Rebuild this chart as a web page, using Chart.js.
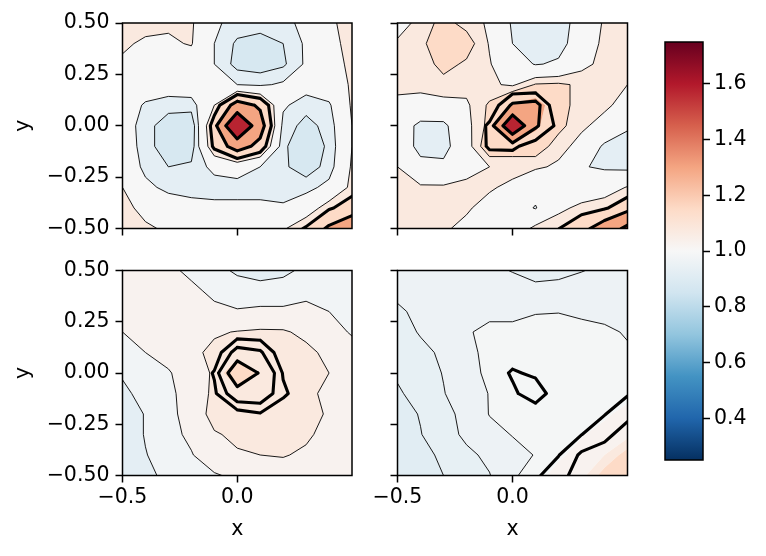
<!DOCTYPE html>
<html>
<head>
<meta charset="utf-8">
<script src="https://cdn.jsdelivr.net/npm/chart.js@4.4.1/dist/chart.umd.min.js"></script>
<style>
  html, body { margin: 0; padding: 0; background: #fff; }
  #wrap { position: relative; width: 766px; height: 556px; }
  #wrap canvas { position: absolute; left: 0; top: 0; }
</style>
</head>
<body>
<div id="wrap">
  <canvas id="tl" width="766" height="556"></canvas>
  <canvas id="tr" width="766" height="556"></canvas>
  <canvas id="bl" width="766" height="556"></canvas>
  <canvas id="br" width="766" height="556"></canvas>
  <canvas id="cb" width="766" height="556"></canvas>
</div>
<script>
// grid positions (columns left->right, rows top->bottom)
const xs = [-0.5, -0.4, -0.3, -0.2, -0.1, 0.0, 0.1, 0.2, 0.3, 0.4, 0.5];
const ys = [0.5, 0.4, 0.3, 0.2, 0.1, 0.0, -0.1, -0.2, -0.3, -0.4, -0.5];

const xTicks = [-0.5, 0.0];
const xTickLabels = ['\u22120.5', '0.0'];
const yTicks = [-0.5, -0.25, 0.0, 0.25, 0.5];
const yTickLabels = ['\u22120.50', '\u22120.25', '0.00', '0.25', '0.50'];
const cbTicks = [0.4, 0.6, 0.8, 1.0, 1.2, 1.4, 1.6];
const cbTickLabels = ['0.4', '0.6', '0.8', '1.0', '1.2', '1.4', '1.6'];

const vMin = 0.25, vMax = 1.75;

// contour levels of each panel
const topLevels = [0.25, 0.85, 0.9, 0.95, 1.05, 1.1, 1.2, 1.4, 1.75];
const topThin = [0.85, 0.9, 0.95, 1.05, 1.1];
const blLevels = [0.25, 0.9, 0.95, 1.0, 1.05, 1.1, 1.2, 1.4, 1.75];
const blThin = [0.9, 0.95, 1.0, 1.05];
const brLevels = [0.25, 0.9, 0.925, 0.95, 0.975, 1.0, 1.05, 1.1, 1.2, 1.4, 1.75];
const brThin = [0.925, 0.95, 0.975];
const thickLevels = [1.1, 1.2, 1.4];

// top left: filled field (its thick lines use the same field)
const tlField = [
  [1.07, 1.07, 1.06, 1.06, 0.96, 0.93, 0.92, 0.93, 0.97, 1.04, 1.07],
  [1.06, 1.04, 1.04, 1.055, 0.95, 0.89, 0.88, 0.90, 0.96, 1.03, 1.07],
  [1.04, 1.02, 1.01, 1.01, 0.95, 0.88, 0.87, 0.89, 0.96, 1.01, 1.07],
  [1.02, 1.0, 0.99, 1.0, 0.97, 0.95, 0.94, 0.96, 0.98, 1.0, 1.06],
  [1.0, 0.94, 0.92, 0.92, 1.05, 1.26, 1.18, 0.96, 0.92, 0.94, 1.06],
  [0.99, 0.92, 0.87, 0.86, 1.15, 1.65, 1.26, 0.93, 0.88, 0.92, 1.05],
  [1.0, 0.92, 0.87, 0.87, 1.12, 1.26, 1.16, 0.91, 0.86, 0.91, 1.05],
  [1.02, 0.93, 0.9, 0.91, 0.97, 0.99, 0.95, 0.91, 0.87, 0.92, 1.06],
  [1.05, 0.97, 0.93, 0.92, 0.92, 0.92, 0.92, 0.92, 0.93, 0.97, 1.07],
  [1.07, 1.03, 1.0, 0.98, 0.97, 0.97, 0.97, 0.96, 1.0, 1.09, 1.14],
  [1.08, 1.06, 1.04, 1.03, 1.02, 1.02, 1.02, 1.04, 1.11, 1.22, 1.3]
];

const trField = [
  [1.02, 1.07, 1.12, 1.08, 1.04, 0.94, 0.92, 0.92, 0.98, 1.06, 1.08],
  [1.06, 1.08, 1.16, 1.13, 1.045, 0.95, 0.92, 0.925, 0.99, 1.07, 1.08],
  [1.07, 1.07, 1.12, 1.09, 1.055, 0.99, 0.945, 0.96, 1.03, 1.07, 1.07],
  [1.07, 1.07, 1.08, 1.07, 1.06, 1.04, 1.105, 1.11, 1.09, 1.07, 1.05],
  [1.03, 1.02, 1.03, 1.04, 1.11, 1.22, 1.25, 1.13, 1.07, 1.06, 1.03],
  [1.0, 0.93, 0.93, 1.03, 1.12, 1.6, 1.22, 1.12, 1.06, 1.03, 0.96],
  [1.02, 0.92, 0.92, 1.02, 1.15, 1.12, 1.14, 1.07, 1.03, 0.935, 0.92],
  [1.05, 0.98, 0.97, 1.02, 1.05, 1.08, 1.06, 1.04, 0.955, 0.94, 0.93],
  [1.07, 1.06, 1.06, 1.07, 1.06, 1.03, 0.98, 0.97, 0.99, 1.01, 1.055],
  [1.06, 1.07, 1.07, 1.06, 1.02, 0.99, 0.945, 1.03, 1.07, 1.09, 1.15],
  [1.06, 1.07, 1.06, 1.03, 1.0, 0.99, 1.07, 1.098, 1.16, 1.27, 1.45]
];
const trLines = [
  [1.02, 1.07, 1.06, 1.08, 1.04, 0.94, 0.92, 0.92, 0.98, 1.06, 1.07],
  [1.06, 1.08, 1.07, 1.06, 1.045, 0.95, 0.92, 0.925, 0.99, 1.07, 1.08],
  [1.07, 1.07, 1.07, 1.09, 1.055, 0.99, 0.945, 0.96, 1.03, 1.07, 1.07],
  [1.07, 1.07, 1.08, 1.07, 1.0, 1.0, 1.0, 1.0, 1.06, 1.07, 1.05],
  [1.03, 1.02, 1.03, 1.0, 1.02, 1.22, 1.25, 1.0, 1.0, 1.06, 1.03],
  [1.0, 0.93, 0.93, 1.0, 1.12, 1.6, 1.22, 1.07, 1.0, 1.03, 0.96],
  [1.02, 0.92, 0.92, 0.98, 1.12, 1.12, 1.05, 1.0, 1.03, 0.935, 0.92],
  [1.05, 0.98, 0.97, 1.02, 1.0, 1.02, 1.0, 1.04, 0.955, 0.94, 0.93],
  [1.07, 1.06, 1.06, 1.07, 1.06, 1.03, 0.98, 0.97, 0.99, 1.01, 1.055],
  [1.06, 1.07, 1.07, 1.06, 1.02, 0.99, 0.945, 1.03, 1.07, 1.09, 1.15],
  [1.06, 1.07, 1.06, 1.03, 1.0, 0.99, 1.07, 1.098, 1.16, 1.27, 1.45]
];

const blField = [
  [1.02, 1.02, 1.01, 0.99, 0.97, 0.94, 0.93, 0.94, 0.96, 0.97, 0.98],
  [1.02, 1.02, 1.02, 1.01, 0.99, 0.98, 0.97, 0.97, 0.99, 0.98, 0.98],
  [1.01, 1.02, 1.02, 1.02, 1.01, 1.003, 1.01, 1.01, 1.01, 1.0, 0.98],
  [1.0, 1.01, 1.02, 1.03, 1.045, 1.052, 1.056, 1.055, 1.04, 1.02, 0.995],
  [0.98, 1.0, 1.02, 1.04, 1.06, 1.065, 1.07, 1.07, 1.06, 1.04, 1.02],
  [0.955, 0.98, 0.995, 1.03, 1.055, 1.17, 1.095, 1.08, 1.07, 1.05, 1.03],
  [0.94, 0.965, 0.99, 1.02, 1.06, 1.07, 1.08, 1.07, 1.06, 1.04, 1.03],
  [0.93, 0.952, 0.99, 1.015, 1.07, 1.07, 1.07, 1.07, 1.065, 1.045, 1.04],
  [0.92, 0.953, 0.985, 1.01, 1.045, 1.06, 1.065, 1.065, 1.055, 1.04, 1.03],
  [0.92, 0.948, 0.97, 0.997, 1.03, 1.045, 1.05, 1.052, 1.045, 1.04, 1.03],
  [0.91, 0.94, 0.96, 0.98, 0.995, 1.01, 1.03, 1.035, 1.035, 1.03, 1.03]
];
const blLines = [
  [1.02, 1.02, 1.01, 0.99, 0.97, 0.94, 0.93, 0.94, 0.96, 0.97, 0.98],
  [1.02, 1.02, 1.02, 1.01, 0.99, 0.98, 0.97, 0.97, 0.99, 0.98, 0.98],
  [1.01, 1.02, 1.02, 1.02, 1.01, 1.003, 1.01, 1.01, 1.01, 1.0, 0.98],
  [1.0, 1.01, 1.02, 1.03, 1.03, 1.02, 1.02, 1.03, 1.04, 1.02, 0.995],
  [0.98, 1.0, 1.02, 1.02, 1.03, 1.26, 1.22, 1.02, 1.0, 1.04, 1.02],
  [0.955, 0.98, 0.995, 1.0, 1.11, 1.6, 1.38, 1.09, 1.03, 1.05, 1.03],
  [0.94, 0.965, 0.99, 1.0, 1.08, 1.3, 1.3, 1.12, 1.03, 1.04, 1.03],
  [0.93, 0.952, 0.99, 1.0, 1.02, 1.05, 1.09, 1.03, 1.02, 1.045, 1.04],
  [0.92, 0.953, 0.985, 1.01, 1.03, 1.03, 1.04, 1.03, 1.055, 1.04, 1.03],
  [0.92, 0.948, 0.97, 0.997, 1.03, 1.045, 1.05, 1.052, 1.045, 1.04, 1.03],
  [0.91, 0.94, 0.96, 0.98, 0.995, 1.01, 1.03, 1.035, 1.035, 1.03, 1.03]
];

const brField = [
  [0.955, 0.958, 0.96, 0.96, 0.955, 0.949, 0.94, 0.942, 0.949, 0.955, 0.96],
  [0.953, 0.955, 0.958, 0.96, 0.962, 0.96, 0.958, 0.96, 0.962, 0.965, 0.968],
  [0.948, 0.953, 0.958, 0.967, 0.97, 0.97, 0.974, 0.9745, 0.972, 0.97, 0.97],
  [0.945, 0.951, 0.955, 0.973, 0.98, 0.98, 0.981, 0.981, 0.98, 0.978, 0.9735],
  [0.94, 0.947, 0.952, 0.972, 0.978, 0.982, 0.982, 0.982, 0.981, 0.979, 0.977],
  [0.9275, 0.94, 0.951, 0.97, 0.978, 0.98, 0.982, 0.982, 0.981, 0.979, 0.977],
  [0.9225, 0.932, 0.949, 0.962, 0.976, 0.98, 0.981, 0.981, 0.98, 0.979, 0.99],
  [0.915, 0.9265, 0.945, 0.955, 0.976, 0.979, 0.98, 0.98, 0.979, 0.995, 1.01],
  [0.91, 0.924, 0.94, 0.955, 0.967, 0.976, 0.977, 0.979, 0.998, 1.01, 1.03],
  [0.908, 0.917, 0.93, 0.945, 0.955, 0.967, 0.976, 0.995, 1.01, 1.05, 1.13],
  [0.905, 0.91, 0.925, 0.94, 0.949, 0.97, 0.99, 1.01, 1.03, 1.13, 1.19]
];
const brLines = [
  [0.96, 0.965, 0.97, 0.97, 0.965, 0.95, 0.94, 0.945, 0.95, 0.96, 0.97],
  [0.955, 0.96, 0.965, 0.97, 0.975, 0.97, 0.965, 0.97, 0.975, 0.98, 0.985],
  [0.945, 0.955, 0.965, 0.985, 0.99, 0.99, 0.998, 0.999, 0.995, 0.99, 0.99],
  [0.94, 0.952, 0.96, 0.996, 1.01, 1.01, 1.012, 1.012, 1.01, 1.005, 0.997],
  [0.93, 0.945, 0.955, 0.994, 1.006, 1.015, 1.015, 1.015, 1.012, 1.008, 1.003],
  [0.905, 0.93, 0.952, 0.99, 1.006, 1.12, 1.07, 1.015, 1.012, 1.008, 1.003],
  [0.895, 0.915, 0.948, 0.975, 1.003, 1.07, 1.19, 1.0, 1.01, 1.02, 1.09],
  [0.88, 0.903, 0.94, 0.96, 1.002, 1.008, 1.0, 1.06, 1.04, 1.095, 1.17],
  [0.87, 0.898, 0.93, 0.96, 0.985, 1.0, 1.005, 1.05, 1.098, 1.17, 1.25],
  [0.865, 0.885, 0.91, 0.94, 0.96, 0.985, 1.02, 1.095, 1.22, 1.25, 1.3],
  [0.86, 0.87, 0.9, 0.93, 0.948, 0.995, 1.08, 1.17, 1.24, 1.3, 1.35]
];

// RdBu reversed
const rdbuR = ['#053061', '#2166ac', '#4393c3', '#92c5de', '#d1e5f0', '#f7f7f7',
               '#fddbc7', '#f4a582', '#d6604d', '#b2182b', '#67001f'];

Chart.defaults.font.family = "'DejaVu Sans', sans-serif";
Chart.defaults.color = '#000';

const FONT = 20.5;

function hexRgb(h) {
  return [parseInt(h.slice(1, 3), 16), parseInt(h.slice(3, 5), 16), parseInt(h.slice(5, 7), 16)];
}

function cmap(t) {
  t = Math.min(1, Math.max(0, t));
  const s = t * (rdbuR.length - 1);
  const i = Math.min(rdbuR.length - 2, Math.floor(s));
  const f = s - i;
  const a = hexRgb(rdbuR[i]), b = hexRgb(rdbuR[i + 1]);
  const c = a.map((v, k) => Math.round(v + f * (b[k] - v)));
  return `rgb(${c[0]},${c[1]},${c[2]})`;
}

function bandColor(levels, k) {
  const mid = (levels[k] + levels[k + 1]) / 2;
  return cmap((mid - vMin) / (vMax - vMin));
}

function lerpPt(p, q, L) {
  const t = (L - p.v) / (q.v - p.v);
  return { x: p.x + t * (q.x - p.x), y: p.y + t * (q.y - p.y), v: L };
}

// keep the part of a polygon above (or below) level L
function clipPoly(poly, L, keepAbove) {
  const out = [];
  for (let i = 0; i < poly.length; i++) {
    const p = poly[i], q = poly[(i + 1) % poly.length];
    const pin = keepAbove ? p.v >= L : p.v < L;
    const qin = keepAbove ? q.v >= L : q.v < L;
    if (pin && qin) out.push(q);
    else if (pin && !qin) out.push(lerpPt(p, q, L));
    else if (!pin && qin) { out.push(lerpPt(p, q, L)); out.push(q); }
  }
  return out;
}

function cellPoly(grid, r, c, px, py) {
  return [
    { x: px[c], y: py[r], v: grid[r][c] },
    { x: px[c + 1], y: py[r], v: grid[r][c + 1] },
    { x: px[c + 1], y: py[r + 1], v: grid[r + 1][c + 1] },
    { x: px[c], y: py[r + 1], v: grid[r + 1][c] }
  ];
}

function isoSegments(grid, L, px, py) {
  const segs = [];
  for (let r = 0; r < ys.length - 1; r++) {
    for (let c = 0; c < xs.length - 1; c++) {
      const p = cellPoly(grid, r, c, px, py);
      const pts = [];
      for (let e = 0; e < 4; e++) {
        const a = p[e], b = p[(e + 1) % 4];
        if ((a.v >= L) !== (b.v >= L)) pts.push(lerpPt(a, b, L));
      }
      if (pts.length === 2) segs.push([pts[0], pts[1]]);
      else if (pts.length === 4) {
        const center = (p[0].v + p[1].v + p[2].v + p[3].v) / 4 >= L;
        if ((p[1].v >= L) !== center) { segs.push([pts[0], pts[1]]); segs.push([pts[2], pts[3]]); }
        else { segs.push([pts[3], pts[0]]); segs.push([pts[1], pts[2]]); }
      }
    }
  }
  return segs;
}

function strokeSegs(ctx, segs) {
  ctx.beginPath();
  segs.forEach(s => { ctx.moveTo(s[0].x, s[0].y); ctx.lineTo(s[1].x, s[1].y); });
  ctx.stroke();
}

function contourPlugin(p) {
  return {
    id: 'contours',
    beforeDatasetsDraw(chart) {
      const { ctx, chartArea: a, scales } = chart;
      const px = xs.map(v => scales.x.getPixelForValue(v));
      const py = ys.map(v => scales.y.getPixelForValue(v));
      const lv = p.levels;
      const nb = lv.length - 1;
      ctx.save();
      ctx.beginPath();
      ctx.rect(a.left, a.top, a.right - a.left, a.bottom - a.top);
      ctx.clip();
      for (let k = 0; k < nb; k++) {
        ctx.beginPath();
        let any = false;
        for (let r = 0; r < ys.length - 1; r++) {
          for (let c = 0; c < xs.length - 1; c++) {
            let poly = cellPoly(p.fill, r, c, px, py);
            if (k > 0) poly = clipPoly(poly, lv[k], true);
            if (k < nb - 1) poly = clipPoly(poly, lv[k + 1], false);
            if (poly.length < 3) continue;
            ctx.moveTo(poly[0].x, poly[0].y);
            for (let i = 1; i < poly.length; i++) ctx.lineTo(poly[i].x, poly[i].y);
            ctx.closePath();
            any = true;
          }
        }
        if (any) { ctx.fillStyle = bandColor(lv, k); ctx.fill(); }
      }
      ctx.strokeStyle = '#000';
      ctx.lineWidth = 0.9;
      p.thin.forEach(L => strokeSegs(ctx, isoSegments(p.fill, L, px, py)));
      ctx.lineWidth = 3.1;
      ctx.lineCap = 'round';
      ctx.lineJoin = 'round';
      thickLevels.forEach(L => strokeSegs(ctx, isoSegments(p.lines, L, px, py)));
      ctx.restore();
      ctx.save();
      ctx.strokeStyle = '#000';
      ctx.lineWidth = 1.5;
      ctx.strokeRect(a.left, a.top, a.right - a.left, a.bottom - a.top);
      ctx.restore();
    }
  };
}

const tickGrid = { drawOnChartArea: false, drawTicks: true, tickLength: 7, tickWidth: 1.5, tickColor: '#000' };

function makePanel(p) {
  const box = p.box;
  const yW = p.showY ? box.left : 12;
  const xH = p.showX ? 556 - box.bottom : 12;
  return new Chart(document.getElementById(p.id), {
    type: 'scatter',
    data: { datasets: [] },
    options: {
      responsive: false,
      animation: false,
      events: [],
      layout: {
        padding: {
          left: box.left - yW,
          top: box.top,
          right: 766 - box.right,
          bottom: 556 - box.bottom - xH
        }
      },
      plugins: { legend: { display: false }, tooltip: { enabled: false } },
      scales: {
        x: {
          type: 'linear', min: -0.5, max: 0.5,
          afterBuildTicks: s => { s.ticks = xTicks.map(v => ({ value: v })); },
          afterFit: s => { s.height = xH; },
          ticks: { display: p.showX, autoSkip: false, maxRotation: 0, padding: 3,
                   font: { size: FONT }, color: '#000', callback: (v, i) => xTickLabels[i] },
          grid: tickGrid,
          border: { display: false },
          title: { display: p.showX, text: 'x', color: '#000', font: { size: FONT },
                   padding: { top: 0, bottom: 14 } }
        },
        y: {
          type: 'linear', min: -0.5, max: 0.5,
          afterBuildTicks: s => { s.ticks = yTicks.map(v => ({ value: v })); },
          afterFit: s => { s.width = yW; },
          ticks: { display: p.showY, autoSkip: false, padding: 6,
                   font: { size: FONT }, color: '#000', callback: (v, i) => yTickLabels[i] },
          grid: tickGrid,
          border: { display: false },
          title: { display: p.showY, text: 'y', color: '#000', font: { size: FONT },
                   padding: { top: 11, bottom: 0 } }
        }
      }
    },
    plugins: [contourPlugin(p)]
  });
}

const panels = [
  { id: 'tl', fill: tlField, lines: tlField, levels: topLevels, thin: topThin,
    box: { left: 122.5, top: 23, right: 352, bottom: 228.5 }, showX: false, showY: true },
  { id: 'tr', fill: trField, lines: trLines, levels: topLevels, thin: topThin,
    box: { left: 397.5, top: 23, right: 627.5, bottom: 228.5 }, showX: false, showY: false },
  { id: 'bl', fill: blField, lines: blLines, levels: blLevels, thin: blThin,
    box: { left: 122.5, top: 270.5, right: 352, bottom: 475.5 }, showX: true, showY: true },
  { id: 'br', fill: brField, lines: brLines, levels: brLevels, thin: brThin,
    box: { left: 397.5, top: 270.5, right: 627.5, bottom: 475.5 }, showX: true, showY: false }
];
panels.forEach(makePanel);

// colour bar
const colorbarPlugin = {
  id: 'colorbar',
  beforeDatasetsDraw(chart) {
    const { ctx, chartArea: a, scales: { y } } = chart;
    const y0 = y.getPixelForValue(vMin), y1 = y.getPixelForValue(vMax);
    const g = ctx.createLinearGradient(0, y0, 0, y1);
    rdbuR.forEach((c, i) => g.addColorStop(i / (rdbuR.length - 1), c));
    ctx.save();
    ctx.fillStyle = g;
    ctx.fillRect(a.left, a.top, a.right - a.left, a.bottom - a.top);
    ctx.strokeStyle = '#000';
    ctx.lineWidth = 1.5;
    ctx.strokeRect(a.left, a.top, a.right - a.left, a.bottom - a.top);
    ctx.restore();
  }
};

new Chart(document.getElementById('cb'), {
  type: 'scatter',
  data: { datasets: [] },
  options: {
    responsive: false,
    animation: false,
    events: [],
    layout: { padding: { left: 665, top: 42, right: 0, bottom: 96 } },
    plugins: { legend: { display: false }, tooltip: { enabled: false } },
    scales: {
      x: { display: false, min: 0, max: 1 },
      y: {
        type: 'linear', position: 'right', min: vMin, max: vMax,
        afterBuildTicks: s => { s.ticks = cbTicks.map(v => ({ value: v })); },
        afterFit: s => { s.width = 766 - 703; },
        ticks: { autoSkip: false, padding: 4, font: { size: FONT }, color: '#000',
                 callback: (v, i) => cbTickLabels[i] },
        grid: tickGrid,
        border: { display: false }
      }
    }
  },
  plugins: [colorbarPlugin]
});
</script>
</body>
</html>
